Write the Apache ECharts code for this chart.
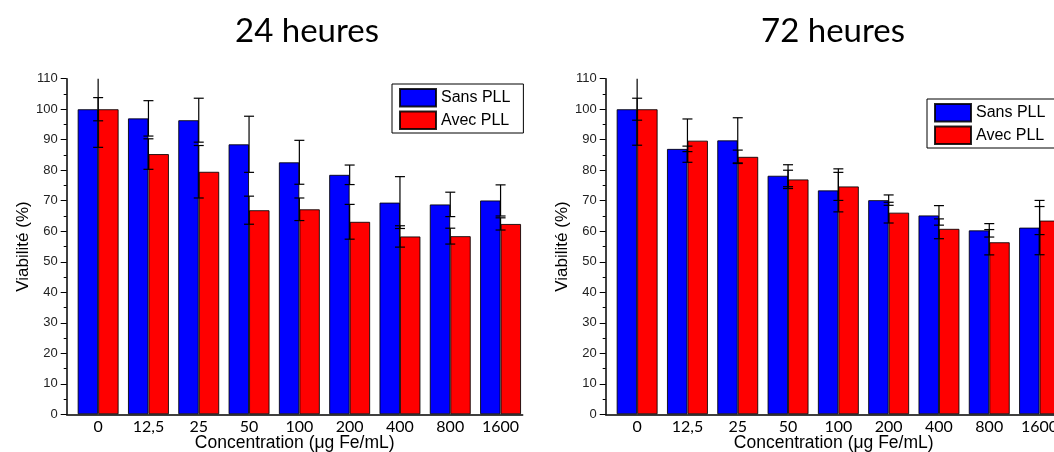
<!DOCTYPE html>
<html>
<head>
<meta charset="utf-8">
<script src="https://cdn.jsdelivr.net/npm/echarts@6/dist/echarts.min.js"></script>
<style>
  html, body { margin: 0; padding: 0; background: #fff; }
  #viabilite { width: 1054px; height: 452px; }
</style>
</head>
<body>
<div id="viabilite"></div>
<script>
var concentrations = ['0', '12,5', '25', '50', '100', '200', '400', '800', '1600'];

var sans24 = [100, 97, 96.4, 88.5, 82.6, 78.5, 69.4, 68.8, 70.1];
var sans24Err = [12.5, 5.8, 7.2, 9.2, 7.2, 3.2, 8.5, 4, 5.1];
var avec24 = [100, 85.3, 79.5, 66.9, 67.2, 63.1, 58.3, 58.4, 62.4];
var avec24Err = [3.8, 5, 8.6, 4.6, 3.7, 5.7, 3.5, 2.6, 2];

var sans72 = [100, 87, 89.8, 78.2, 73.4, 70.2, 65.2, 60.3, 61.2];
var sans72Err = [11.8, 0.9, 7.4, 3.6, 7.05, 1.7, 3.2, 2.2, 8.9];
var avec72 = [100, 89.7, 84.4, 77, 74.7, 66.1, 60.8, 56.4, 63.5];
var avec72Err = [3.6, 7.1, 2.2, 3, 4.6, 3.4, 3.25, 4.15, 4.6];

var yMax = 110;
var arial = "'Liberation Sans', Arial, sans-serif";

// bars on a value axis: position i+1 for each concentration
function pts(vals) {
    return vals.map(function (v, i) { return [i + 1, v]; });
}
function errPts(vals, errs) {
    return vals.map(function (v, i) { return [i + 1, v, errs[i]]; });
}

function renderErr(params, api) {
    var x = api.value(0), v = api.value(1), e = api.value(2);
    var top = Math.min(v + e, yMax);
    var pTop = api.coord([x, top]);
    var pBot = api.coord([x, v - e]);
    var style = { stroke: '#000', lineWidth: 1.2 };
    var kids = [
        { type: 'line', shape: { x1: pTop[0], y1: pTop[1], x2: pBot[0], y2: pBot[1] }, style: style },
        { type: 'line', shape: { x1: pBot[0] - 5, y1: pBot[1], x2: pBot[0] + 5, y2: pBot[1] }, style: style }
    ];
    if (v + e <= yMax) {
        kids.push({ type: 'line', shape: { x1: pTop[0] - 5, y1: pTop[1], x2: pTop[0] + 5, y2: pTop[1] }, style: style });
    }
    return { type: 'group', children: kids };
}

function barSeries(name, color, vals, idx) {
    return {
        name: name, type: 'bar',
        xAxisIndex: idx, yAxisIndex: idx,
        data: pts(vals),
        barWidth: 20.5, barGap: '0%',
        itemStyle: { color: color, borderColor: 'rgba(0,0,0,0.85)', borderWidth: 1 }
    };
}

function errSeries(vals, errs, idx) {
    return {
        type: 'custom', xAxisIndex: idx, yAxisIndex: idx,
        data: errPts(vals, errs), renderItem: renderErr, z: 5, silent: true
    };
}

function xAxisFor(idx) {
    return {
        type: 'value', gridIndex: idx, min: 0.375, max: 9.44,
        name: 'Concentration (\u03bcg Fe/mL)', nameLocation: 'middle', nameGap: 20,
        nameMoveOverlap: false,
        nameTextStyle: { fontFamily: arial, fontSize: 17.5, color: '#000', lineHeight: 18 },
        axisLine: { lineStyle: { color: '#000', width: 1.5 } },
        axisTick: { show: false },
        splitLine: { show: false },
        axisLabel: {
            customValues: [1, 2, 3, 4, 5, 6, 7, 8, 9],
            formatter: function (v) { return concentrations[Math.round(v) - 1]; },
            fontFamily: 'Lato', fontSize: 16, color: '#000', margin: 5
        }
    };
}

function yAxisFor(idx) {
    return {
        type: 'value', gridIndex: idx, min: 0, max: yMax, interval: 10,
        name: 'Viabilit\u00e9 (%)', nameLocation: 'middle', nameGap: 35,
        nameMoveOverlap: false,
        nameTextStyle: { fontFamily: arial, fontSize: 17, color: '#000' },
        axisLine: { show: true, lineStyle: { color: '#000', width: 1.5 } },
        axisTick: { show: true, length: 6, lineStyle: { color: '#000' } },
        minorTick: { show: true, splitNumber: 2, length: 3, lineStyle: { color: '#000' } },
        splitLine: { show: false },
        axisLabel: { fontFamily: arial, fontSize: 13, color: '#222', margin: 9 }
    };
}

function legendAt(left, top) {
    return {
        data: ['Sans PLL', 'Avec PLL'], orient: 'vertical', left: left, top: top,
        icon: 'rect', itemWidth: 36, itemHeight: 17.5, itemGap: 3,
        padding: [4, 13, 3, 7], borderColor: '#000', borderWidth: 1, borderRadius: 0,
        textStyle: { fontFamily: arial, fontSize: 16, color: '#000' }
    };
}

var chart = echarts.init(document.getElementById('viabilite'));

var option = {
    backgroundColor: '#fff',
    animation: false,
    title: [
        { text: '24 heures', left: 235, top: 15, padding: 0, textStyle: { fontFamily: 'Lato', fontSize: 33, fontWeight: 'normal', color: '#000' } },
        { text: '72 heures', left: 761, top: 15, padding: 0, textStyle: { fontFamily: 'Lato', fontSize: 33, fontWeight: 'normal', color: '#000' } }
    ],
    legend: [legendAt(392, 84), legendAt(927, 99)],
    grid: [
        { left: 66.7, top: 78.7, width: 456, height: 335.6, outerBoundsMode: 'none' },
        { left: 605.7, top: 78.7, width: 456, height: 335.6, outerBoundsMode: 'none' }
    ],
    xAxis: [xAxisFor(0), xAxisFor(1)],
    yAxis: [yAxisFor(0), yAxisFor(1)],
    series: [
        barSeries('Sans PLL', '#0000ff', sans24, 0),
        barSeries('Avec PLL', '#ff0000', avec24, 0),
        errSeries(sans24, sans24Err, 0),
        errSeries(avec24, avec24Err, 0),
        barSeries('Sans PLL', '#0000ff', sans72, 1),
        barSeries('Avec PLL', '#ff0000', avec72, 1),
        errSeries(sans72, sans72Err, 1),
        errSeries(avec72, avec72Err, 1)
    ]
};

chart.setOption(option);
window.addEventListener('resize', chart.resize);
</script>
</body>
</html>
